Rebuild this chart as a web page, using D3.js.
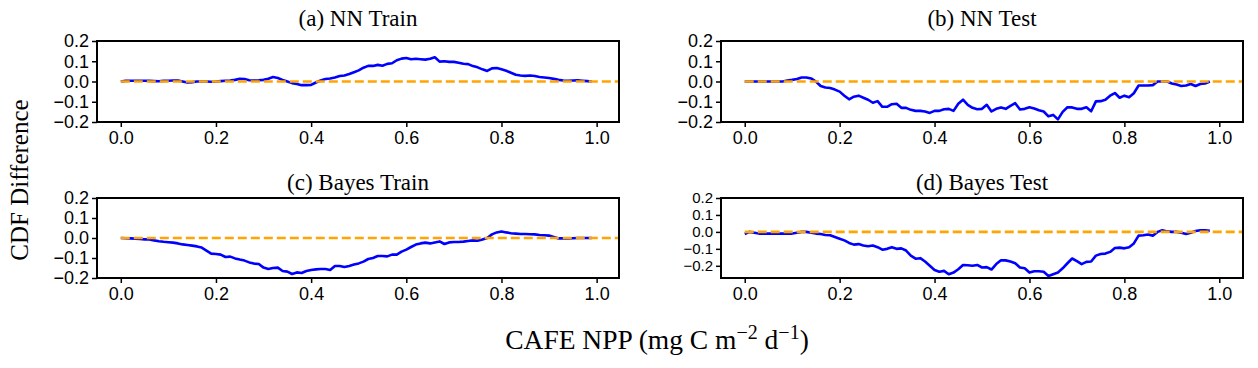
<!DOCTYPE html>
<html>

<head>
	<meta charset="utf-8">
	<script src="https://cdn.jsdelivr.net/npm/d3@7"></script>
	<style>
		body {
			margin: 0;
			background: #fff;
		}

		svg {
			font-family: "Liberation Serif", "Times New Roman", serif;
		}

		.tick line {
			stroke: #000;
			stroke-width: 1.5;
		}

		.tick text {
			font-size: 18px;
			fill: #000;
		}
	</style>
</head>

<body>

	<div id="chart"></div>

	<script>
		// x grid of each CDF difference curve
		var xTrain = d3.range(0, 100).map(function (i) { return i / 100; });   // 0.00 .. 0.99
		var xTest = d3.range(0, 99).map(function (i) { return i / 100; });    // 0.00 .. 0.98

		var nnTrain = [
			0.000, 0.003, 0.004, 0.004, 0.004, 0.004, 0.003, 0.002, 0.001, 0.003,
			0.004, 0.005, 0.005, 0.000, -0.005, -0.003, 0.000, 0.000, 0.000, -0.001,
			0.000, 0.002, 0.004, 0.005, 0.008, 0.013, 0.012, 0.006, 0.005, 0.006,
			0.008, 0.014, 0.022, 0.017, 0.008, 0.000, -0.008, -0.012, -0.018, -0.018,
			-0.017, -0.005, 0.005, 0.012, 0.015, 0.020, 0.027, 0.030, 0.037, 0.046,
			0.055, 0.068, 0.077, 0.077, 0.082, 0.078, 0.087, 0.090, 0.105, 0.113,
			0.116, 0.110, 0.112, 0.110, 0.108, 0.112, 0.120, 0.098, 0.100, 0.097,
			0.097, 0.093, 0.088, 0.086, 0.076, 0.070, 0.060, 0.052, 0.065, 0.067,
			0.060, 0.053, 0.043, 0.033, 0.030, 0.028, 0.030, 0.027, 0.022, 0.020,
			0.017, 0.013, 0.008, 0.005, 0.004, 0.005, 0.006, 0.004, 0.002, 0.000
		];

		var nnTest = [
			0.000, 0.000, 0.000, 0.000, 0.000, 0.000, 0.000, 0.000, 0.000, 0.005,
			0.008, 0.012, 0.020, 0.020, 0.015, 0.000, -0.022, -0.030, -0.032, -0.040,
			-0.050, -0.070, -0.088, -0.075, -0.070, -0.080, -0.090, -0.105, -0.097, -0.125,
			-0.125, -0.112, -0.110, -0.130, -0.130, -0.140, -0.145, -0.145, -0.148, -0.155,
			-0.145, -0.145, -0.137, -0.135, -0.145, -0.110, -0.090, -0.115, -0.130, -0.137,
			-0.135, -0.115, -0.148, -0.135, -0.128, -0.135, -0.120, -0.107, -0.138, -0.135,
			-0.127, -0.133, -0.142, -0.148, -0.172, -0.165, -0.187, -0.150, -0.127, -0.128,
			-0.135, -0.135, -0.127, -0.147, -0.098, -0.097, -0.090, -0.070, -0.057, -0.080,
			-0.070, -0.078, -0.058, -0.020, -0.020, -0.020, -0.018, 0.000, 0.000, 0.000,
			-0.010, -0.015, -0.022, -0.020, -0.012, -0.022, -0.012, -0.010, 0.000
		];

		var bayesTrain = [
			0.000, -0.001, -0.002, -0.003, -0.005, -0.007, -0.007, -0.012, -0.016, -0.019,
			-0.021, -0.023, -0.027, -0.032, -0.035, -0.038, -0.042, -0.048, -0.063, -0.078,
			-0.080, -0.083, -0.095, -0.093, -0.102, -0.108, -0.113, -0.122, -0.128, -0.130,
			-0.148, -0.155, -0.150, -0.148, -0.165, -0.168, -0.180, -0.172, -0.175, -0.165,
			-0.160, -0.157, -0.155, -0.155, -0.160, -0.140, -0.140, -0.145, -0.140, -0.133,
			-0.127, -0.118, -0.105, -0.100, -0.090, -0.090, -0.092, -0.083, -0.083, -0.068,
			-0.058, -0.045, -0.033, -0.027, -0.023, -0.027, -0.022, -0.017, -0.030, -0.022,
			-0.020, -0.020, -0.018, -0.015, -0.012, -0.014, -0.008, 0.000, 0.018, 0.028,
			0.033, 0.028, 0.024, 0.022, 0.020, 0.020, 0.019, 0.018, 0.015, 0.014,
			0.012, 0.005, -0.002, -0.002, -0.002, -0.001, 0.000, 0.000, 0.000, 0.000
		];

		var bayesTest = [
			-0.012, 0.000, -0.005, -0.010, -0.010, -0.010, -0.010, -0.010, -0.010, -0.010,
			-0.010, -0.005, 0.000, 0.000, -0.005, -0.010, -0.012, -0.018, -0.020, -0.030,
			-0.040, -0.050, -0.065, -0.075, -0.072, -0.080, -0.085, -0.080, -0.090, -0.105,
			-0.100, -0.090, -0.100, -0.097, -0.110, -0.140, -0.158, -0.155, -0.175, -0.200,
			-0.225, -0.235, -0.230, -0.250, -0.240, -0.220, -0.195, -0.197, -0.200, -0.195,
			-0.210, -0.208, -0.222, -0.190, -0.167, -0.168, -0.175, -0.185, -0.210, -0.215,
			-0.240, -0.232, -0.232, -0.235, -0.260, -0.250, -0.240, -0.215, -0.185, -0.157,
			-0.172, -0.190, -0.177, -0.175, -0.140, -0.130, -0.128, -0.118, -0.095, -0.093,
			-0.097, -0.090, -0.068, -0.022, -0.020, -0.015, -0.022, 0.000, 0.010, 0.003,
			0.000, 0.000, -0.005, -0.012, -0.005, 0.005, 0.010, 0.010, 0.006
		];

		var xTicks = [0, 0.2, 0.4, 0.6, 0.8, 1.0];
		var yTicks = [-0.2, -0.1, 0, 0.1, 0.2];

		var panels = [
			{ title: "(a) NN Train", xs: xTrain, ys: nnTrain, left: 97, top: 41, h: 81, xd: [-0.05, 1.047], yd: [-0.2, 0.2], ty: -15, yfs: 18 },
			{ title: "(b) NN Test", xs: xTest, ys: nnTest, left: 721, top: 41, h: 81, xd: [-0.05, 1.05], yd: [-0.2, 0.2], ty: -15, yfs: 18 },
			{ title: "(c) Bayes Train", xs: xTrain, ys: bayesTrain, left: 97, top: 198, h: 80, xd: [-0.05, 1.047], yd: [-0.2, 0.2], ty: -8, yfs: 18 },
			{ title: "(d) Bayes Test", xs: xTest, ys: bayesTest, left: 721, top: 198, h: 80, xd: [-0.05, 1.05], yd: [-0.272, 0.2], ty: -8, yfs: 15 }
		];

		var width = 1258,
			height = 368,
			pw = 522;

		var fmt = d3.format(".1f");

		var svg = d3.select("#chart").append("svg")
			.attr("width", width)
			.attr("height", height);

		panels.forEach(function (p, i) {
			var x = d3.scaleLinear().domain(p.xd).range([0, pw]);
			var y = d3.scaleLinear().domain(p.yd).range([p.h, 0]);

			var g = svg.append("g")
				.attr("transform", "translate(" + p.left + "," + p.top + ")");

			g.append("clipPath")
				.attr("id", "clip" + i)
				.append("rect")
				.attr("width", pw)
				.attr("height", p.h);

			var pts = p.xs.map(function (v, k) { return [v, p.ys[k]]; });

			var line = d3.line()
				.x(function (d) { return x(d[0]); })
				.y(function (d) { return y(d[1]); });

			g.append("path")
				.datum(pts)
				.attr("clip-path", "url(#clip" + i + ")")
				.attr("fill", "none")
				.attr("stroke", "#0000ff")
				.attr("stroke-width", 2.6)
				.attr("stroke-linejoin", "round")
				.attr("d", line);

			// zero reference
			g.append("line")
				.attr("x1", x(0))
				.attr("x2", pw)
				.attr("y1", y(0))
				.attr("y2", y(0))
				.attr("stroke", "#ffa500")
				.attr("stroke-width", 2.6)
				.attr("stroke-dasharray", "9,4");

			g.append("g")
				.attr("transform", "translate(0," + p.h + ")")
				.call(d3.axisBottom(x).tickValues(xTicks).tickFormat(fmt).tickSize(5).tickSizeOuter(0).tickPadding(4))
				.call(function (a) { a.select(".domain").remove(); });

			g.append("g")
				.call(d3.axisLeft(y).tickValues(yTicks).tickFormat(fmt).tickSize(5).tickSizeOuter(0).tickPadding(3))
				.call(function (a) {
					a.select(".domain").remove();
					a.selectAll(".tick text").style("font-size", p.yfs + "px");
				});

			g.append("rect")
				.attr("width", pw)
				.attr("height", p.h)
				.attr("fill", "none")
				.attr("stroke", "#000")
				.attr("stroke-width", 2);

			g.append("text")
				.attr("x", pw / 2)
				.attr("y", p.ty)
				.attr("text-anchor", "middle")
				.style("font-size", "23px")
				.text(p.title);
		});

		svg.append("text")
			.attr("transform", "translate(28,180) rotate(-90)")
			.attr("text-anchor", "middle")
			.style("font-size", "25px")
			.text("CDF Difference");

		var xl = svg.append("text")
			.attr("x", 657)
			.attr("y", 349)
			.attr("text-anchor", "middle")
			.style("font-size", "27.5px");
		xl.append("tspan").text("CAFE NPP (mg C m");
		xl.append("tspan").attr("dy", -10).style("font-size", "20px").text("\u22122");
		xl.append("tspan").attr("dy", 10).text(" d");
		xl.append("tspan").attr("dy", -10).style("font-size", "20px").text("\u22121");
		xl.append("tspan").attr("dy", 10).text(")");

	</script>
</body>

</html>
